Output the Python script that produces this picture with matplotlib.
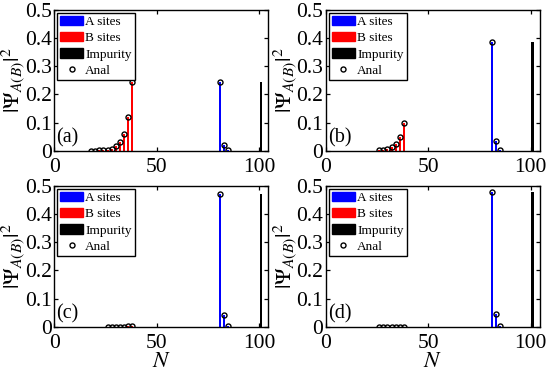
import numpy as np
import matplotlib.pyplot as plt
from matplotlib.patches import Patch
from matplotlib.lines import Line2D

plt.rcParams['font.family'] = ['Liberation Serif', 'DejaVu Serif']
plt.rcParams['mathtext.fontset'] = 'stix'

# site indices
n_b_a = [18, 20, 22, 24, 26, 28, 30, 32, 34, 36, 38]
n_b = [26, 28, 30, 32, 34, 36, 38]
n_a = [81, 83, 85]
n_imp = 101

# |Psi|^2, one list per panel
b_a = [0.0003, 0.0005, 0.001, 0.002, 0.004, 0.0077, 0.015, 0.03, 0.059, 0.119, 0.245]
a_a = [0.245, 0.02, 0.002]
imp_a = 0.245

b_b = [0.0015, 0.003, 0.006, 0.012, 0.025, 0.05, 0.097]
a_b = [0.386, 0.034, 0.002]
imp_b = 0.386

b_c = [0.0, 0.0, 0.0, 0.0001, 0.0003, 0.001, 0.004]
a_c = [0.473, 0.041, 0.003]
imp_c = 0.473

b_d = [0.0, 0.0, 0.0, 0.0, 0.0, 0.0001, 0.0003]
a_d = [0.478, 0.044, 0.003]
imp_d = 0.478

panels = [
    ('(a)', n_b_a, b_a, a_a, imp_a),
    ('(b)', n_b, b_b, a_b, imp_b),
    ('(c)', n_b, b_c, a_c, imp_c),
    ('(d)', n_b, b_d, a_d, imp_d),
]

fig = plt.figure(figsize=(5.5, 3.71), dpi=100)
lefts = [0.0987, 0.5927]
bottoms = [0.5938, 0.1194]
w, h = 0.389, 0.379

for i, (tag, nb, vb, va, vimp) in enumerate(panels):
    ax = fig.add_axes([lefts[i % 2], bottoms[i // 2], w, h])
    ax.bar(nb, vb, width=1.0, color=(1, 0, 0))
    ax.bar(n_a, va, width=1.0, color=(0, 0, 1))
    ax.bar([n_imp], [vimp], width=1.3, color='k')
    ax.plot(list(nb) + n_a, list(vb) + va, 'o', ms=3.6, mfc='none',
            mec='k', mew=1.0)

    ax.set_xlim(0, 104.5)
    ax.set_ylim(0, 0.5)
    ax.set_xticks([0, 50, 100])
    ax.set_yticks([0, 0.1, 0.2, 0.3, 0.4, 0.5])
    ax.set_yticklabels(['0', '0.1', '0.2', '0.3', '0.4', '0.5'])
    ax.tick_params(direction='in', length=3, width=0.9, labelsize=15.5,
                   top=True, right=True, pad=2)
    ax.tick_params(axis='x', pad=5)
    for s in ax.spines.values():
        s.set_linewidth(1.0)
    ax.set_ylabel(r'$|\Psi_{A(B)}|^2$', fontsize=16)
    ax.yaxis.set_label_coords(-0.128, 0.5)
    if i >= 2:
        ax.set_xlabel(r'$N$', fontsize=16.5, labelpad=-1.5)

    ax.text(0.008, 0.02, tag, transform=ax.transAxes, fontsize=14.5,
            ha='left', va='bottom')

    handles = [
        Patch(color=(0, 0, 1), label='A sites'),
        Patch(color=(1, 0, 0), label='B sites'),
        Patch(color='k', label='Impurity'),
        Line2D([], [], ls='none', marker='o', ms=3.6, mfc='none', mec='k',
               mew=1.0, label='Anal'),
    ]
    leg = ax.legend(handles=handles, loc='upper left', fontsize=9.5,
                    bbox_to_anchor=(0.0, 1.0), borderaxespad=0.2,
                    fancybox=False, framealpha=1, edgecolor='k',
                    handlelength=1.75, handleheight=0.7, handletextpad=0.15,
                    labelspacing=0.3, borderpad=0.25)
    leg.get_frame().set_linewidth(1.0)

fig.savefig('out.png', dpi=100)
